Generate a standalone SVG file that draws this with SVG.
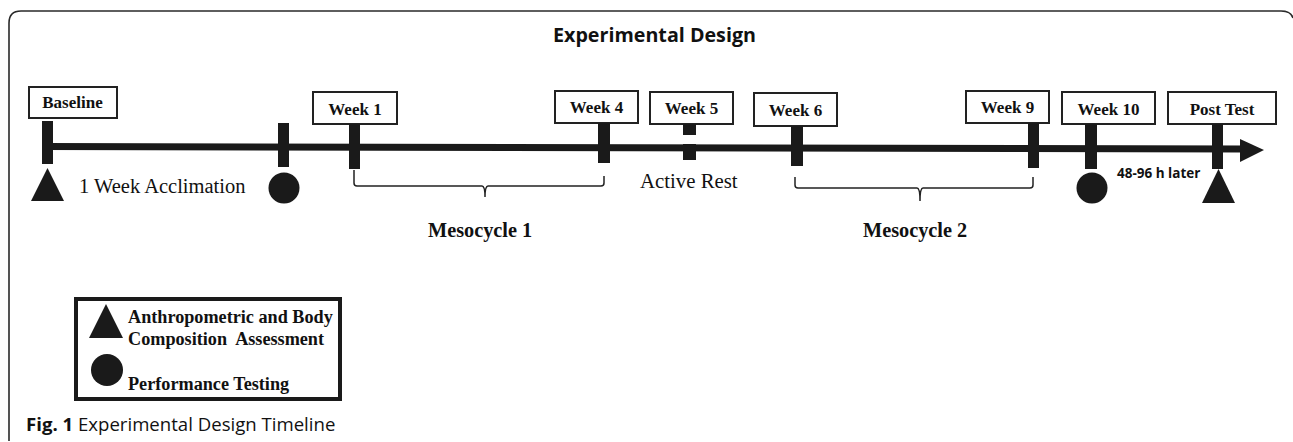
<svg xmlns="http://www.w3.org/2000/svg" width="1293" height="442" viewBox="0 0 1293 442">
<style>
.bg{fill:#fff}
.frame{fill:none;stroke:#2a2a2a;stroke-width:1.6}
.box{fill:#fff;stroke:#222;stroke-width:2}
.lbl{font-family:"Liberation Serif","Times New Roman",serif;font-weight:bold;font-size:17px;fill:#111;text-anchor:middle}
.ser{font-family:"Liberation Serif","Times New Roman",serif;fill:#111}
.blk{fill:#1a1a1a}
.brace{fill:none;stroke:#222;stroke-width:1.5}
.sans{font-family:"Open Sans","Noto Sans",sans-serif;fill:#111}
</style>
<rect class="bg" x="0" y="0" width="1293" height="442"/>
<path class="frame" d="M9,441 V23 Q9,11 21,11 H1281 Q1291,11 1293,18"/>
<text class="sans" x="654.5" y="42" font-size="19.7" font-weight="bold" text-anchor="middle">Experimental Design</text>

<g id="connectors">
  <line x1="42" y1="146.5" x2="1244" y2="149" stroke="#1a1a1a" stroke-width="7"/>
  <polygon class="blk" points="1240,139 1264,150 1240,162"/>
  <path class="brace" d="M354,170 V183 Q354,186 357,186 H482 Q485,186 485,197 Q485,186 488,186 H601 Q604,186 604,183 V176"/>
  <path class="brace" d="M795,177 V185 Q795,188 798,188 H917 Q920,188 920,201 Q920,188 923,188 H1030 Q1033,188 1033,185 V177"/>
</g>

<g id="baseline">
  <rect class="box" x="29" y="87" width="88" height="31"/>
  <text class="lbl" x="72.5" y="108">Baseline</text>
  <rect class="blk" x="42" y="121" width="11" height="43"/>
  <polygon class="blk" points="47.5,168 64,201 31,201"/>
</g>

<g id="acclimation">
  <text class="ser" x="79" y="193" font-size="20.5">1 Week Acclimation</text>
  <rect class="blk" x="278" y="123" width="11" height="44"/>
  <circle class="blk" cx="284" cy="188" r="15.5"/>
</g>

<g id="week1">
  <rect class="box" x="313" y="92" width="84" height="32"/>
  <text class="lbl" x="355" y="115">Week 1</text>
  <rect class="blk" x="349" y="124" width="11" height="45"/>
</g>

<g id="week4">
  <rect class="box" x="555" y="91" width="83" height="32"/>
  <text class="lbl" x="596.5" y="113">Week 4</text>
  <rect class="blk" x="598" y="123" width="12" height="40"/>
</g>

<g id="week5">
  <rect class="box" x="650" y="92" width="83" height="32"/>
  <text class="lbl" x="691.5" y="114">Week 5</text>
  <rect class="blk" x="683" y="124" width="13" height="11"/>
  <rect class="blk" x="683" y="144" width="13" height="16"/>
  <text class="ser" x="640" y="188" font-size="20.8">Active Rest</text>
</g>

<g id="week6">
  <rect class="box" x="754" y="93" width="83" height="33"/>
  <text class="lbl" x="795.5" y="116">Week 6</text>
  <rect class="blk" x="791" y="126" width="12" height="40"/>
</g>

<g id="week9">
  <rect class="box" x="966" y="91" width="83" height="32"/>
  <text class="lbl" x="1007.5" y="113">Week 9</text>
  <rect class="blk" x="1028" y="123" width="11" height="45"/>
</g>

<g id="week10">
  <rect class="box" x="1062" y="92" width="93" height="32"/>
  <text class="lbl" x="1108.5" y="115">Week 10</text>
  <rect class="blk" x="1085" y="124" width="12" height="45"/>
  <circle class="blk" cx="1092" cy="188" r="15.5"/>
  <text class="sans" x="1117" y="178" font-size="13.5" font-weight="bold">48-96 h later</text>
</g>

<g id="posttest">
  <rect class="box" x="1168" y="92" width="108" height="32"/>
  <text class="lbl" x="1222" y="115">Post Test</text>
  <rect class="blk" x="1212" y="124" width="11" height="45"/>
  <polygon class="blk" points="1218.5,169 1235,203 1202,203"/>
</g>

<g id="mesocycle1">
  <text class="ser" x="428" y="237" font-size="20.3" font-weight="bold">Mesocycle 1</text>
</g>
<g id="mesocycle2">
  <text class="ser" x="863" y="237" font-size="20.3" font-weight="bold">Mesocycle 2</text>
</g>

<g id="legend">
  <rect x="76" y="299" width="264" height="100" fill="#fff" stroke="#1a1a1a" stroke-width="4"/>
  <polygon class="blk" points="106,304 123,338 89,338"/>
  <circle class="blk" cx="107" cy="370" r="16"/>
  <text class="ser" x="128" y="323" font-size="18.2" font-weight="bold">Anthropometric and Body</text>
  <text class="ser" x="128" y="345" font-size="18.2" font-weight="bold" xml:space="preserve">Composition  Assessment</text>
  <text class="ser" x="128" y="390" font-size="18.2" font-weight="bold">Performance Testing</text>
</g>

<g id="caption">
  <text class="sans" x="26" y="431" font-size="18.6"><tspan font-weight="bold">Fig. 1</tspan> Experimental Design Timeline</text>
</g>
</svg>
